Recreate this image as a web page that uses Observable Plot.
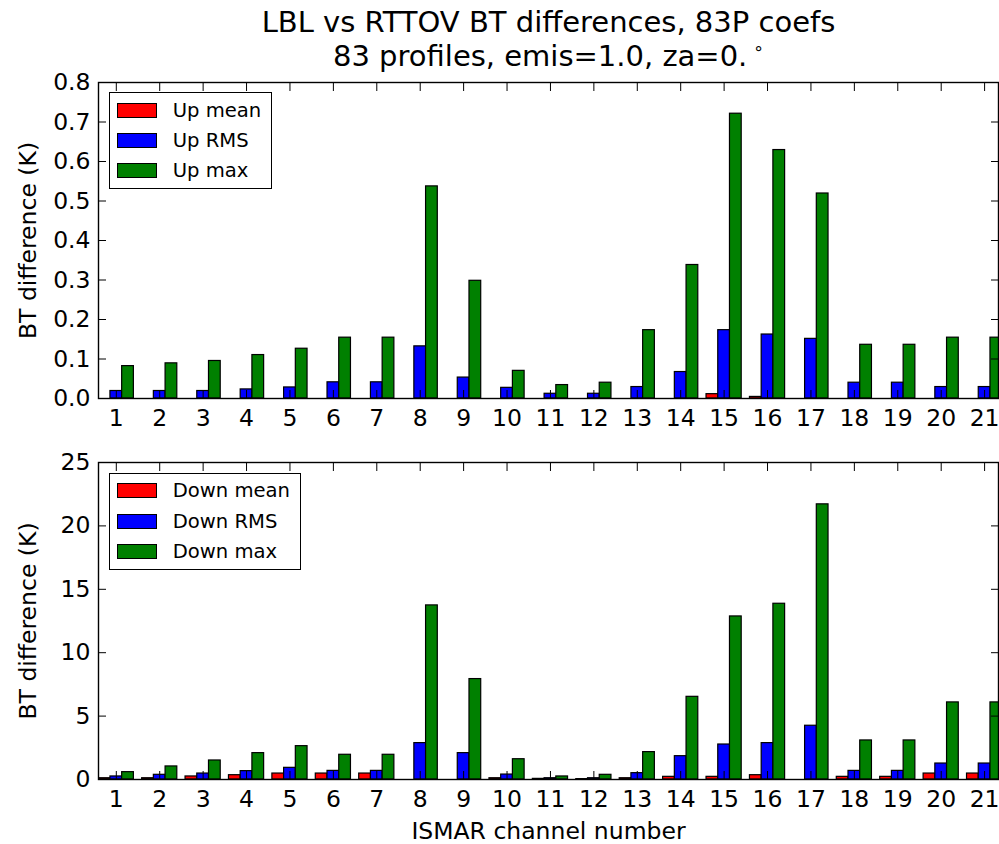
<!DOCTYPE html>
<html>
<head>
<meta charset="utf-8">
<script src="https://cdn.jsdelivr.net/npm/d3@7"></script>
<script src="https://cdn.jsdelivr.net/npm/@observablehq/plot@0.6"></script>
<style>
  html, body { margin: 0; padding: 0; background: #fff; }
  body { font-family: "DejaVu Sans", sans-serif; color: #000; }
  #page { position: relative; width: 999px; height: 844px; overflow: hidden; }
  #title { height: 75px; box-sizing: border-box; padding-top: 6px; padding-left: 98px; width: 999px;
           text-align: center; font-size: 29px; line-height: 33.5px; white-space: nowrap; }
  .panel { position: relative; }
  .panel svg { display: block; }
  .legend { position: absolute; background: #fff; border: 1.3px solid #000; box-sizing: border-box;
            padding-top: 1.7px; padding-left: 7.5px; font-size: 19.6px; }
  .legend .row { height: 30.3px; display: flex; align-items: center; white-space: nowrap; }
  .legend .sw { width: 38px; height: 13px; border: 1px solid #000; margin-right: 15.5px; flex: none; }
  .deg { font-size: 17px; position: relative; top: -12px; margin-left: 6px; }
</style>
</head>
<body>
<div id="page">
  <div id="title">LBL vs RTTOV BT differences, 83P coefs<br>83 profiles, emis=1.0, za=0.<span class="deg">∘</span></div>
  <div class="panel" id="top"></div>
  <div class="panel" id="bottom"></div>
</div>
<script>
// ---- data ----
const channels = [1,2,3,4,5,6,7,8,9,10,11,12,13,14,15,16,17,18,19,20,21];
const upMean   = [0,0,0,0,0,0,0,0,0,0,0,0,0,0,0.011,0.004,0,0,0,0,0];
const upRMS    = [0.019,0.019,0.019,0.023,0.028,0.041,0.041,0.132,0.053,0.027,0.012,0.012,0.029,0.067,0.173,0.162,0.151,0.040,0.040,0.029,0.029];
const upMax    = [0.082,0.089,0.095,0.110,0.126,0.154,0.154,0.537,0.298,0.070,0.034,0.040,0.173,0.338,0.721,0.629,0.519,0.136,0.136,0.154,0.154];
const downMean = [0.10,0.10,0.24,0.34,0.47,0.47,0.47,0,0,0.10,0.05,0.03,0.10,0.21,0.21,0.34,0,0.21,0.21,0.47,0.47];
const downRMS  = [0.24,0.37,0.47,0.66,0.92,0.68,0.68,2.87,2.08,0.39,0.10,0.10,0.50,1.84,2.76,2.87,4.24,0.68,0.68,1.26,1.26];
const downMax  = [0.58,1.03,1.50,2.08,2.63,1.95,1.95,13.73,7.92,1.60,0.24,0.37,2.16,6.52,12.86,13.86,21.70,3.08,3.08,6.08,6.08];
const upTicks   = [0,0.1,0.2,0.3,0.4,0.5,0.6,0.7,0.8];
const downTicks = [0,5,10,15,20,25];
const seriesColors = ["#ff0000", "#0000ff", "#008000"];
const upLabels   = ["Up mean", "Up RMS", "Up max"];
const downLabels = ["Down mean", "Down RMS", "Down max"];

const barW = 0.27;
const offsets = [-barW, 0, barW];
const xDomain = [0.59, 21.32];

function buildRows(series) {
  const rows = [];
  series.forEach((vals, s) => {
    channels.forEach((c, i) => rows.push({c, s, v: vals[i]}));
  });
  return rows;
}

function panel({series, yDomain, yTicks, yFormat, height, marginTop, marginBottom, xLabel}) {
  const rows = buildRows(series);
  return Plot.plot({
    width: 999,
    height,
    marginLeft: 98,
    marginRight: 1,
    marginTop,
    marginBottom,
    style: {fontFamily: "DejaVu Sans, sans-serif", fontSize: "23.5px", color: "#000", background: "#fff", overflow: "visible"},
    x: {domain: xDomain},
    y: {domain: yDomain},
    marks: [
      Plot.rect(rows, {
        x1: d => d.c + offsets[d.s] - barW / 2,
        x2: d => d.c + offsets[d.s] + barW / 2,
        y1: d => 0,
        y2: "v",
        fill: d => seriesColors[d.s],
        stroke: "#000",
        strokeWidth: 1.2,
        clip: true
      }),
      // inward tick marks on all four sides
      Plot.axisY(yTicks, {anchor: "left", tickSize: 8, dx: 8, fill: "none", label: null, strokeWidth: 1}),
      Plot.axisY(yTicks, {anchor: "right", tickSize: 8, dx: -8, fill: "none", label: null, strokeWidth: 1}),
      Plot.axisX(channels, {anchor: "bottom", tickSize: 8, dy: -8, fill: "none", label: null, strokeWidth: 1}),
      Plot.axisX(channels, {anchor: "top", tickSize: 8, dy: 8, fill: "none", label: null, strokeWidth: 1}),
      // tick labels
      Plot.axisY(yTicks, {anchor: "left", tickSize: 0, tickPadding: 8, tickFormat: yFormat, stroke: "none",
                          label: "BT difference (K)", labelAnchor: "center", labelArrow: "none", labelOffset: 79, fontSize: 23.5}),
      Plot.axisX(channels, {anchor: "bottom", tickSize: 0, tickPadding: 11, tickFormat: d => String(d), stroke: "none",
                            label: xLabel, labelArrow: "none", labelAnchor: "center", labelOffset: 59, fontSize: 23.5}),
      Plot.frame({stroke: "#000", strokeWidth: 1.4})
    ]
  });
}

function legend(labels, left, top, width) {
  const div = document.createElement("div");
  div.className = "legend";
  div.style.left = left + "px";
  div.style.top = top + "px";
  div.style.width = width + "px";
  div.style.height = "96.7px";
  labels.forEach((t, i) => {
    const row = document.createElement("div");
    row.className = "row";
    const sw = document.createElement("span");
    sw.className = "sw";
    sw.style.background = seriesColors[i];
    const tx = document.createElement("span");
    tx.textContent = t;
    row.appendChild(sw);
    row.appendChild(tx);
    div.appendChild(row);
  });
  return div;
}

const topEl = document.getElementById("top");
topEl.appendChild(panel({
  series: [upMean, upRMS, upMax], yDomain: [0, 0.8], yTicks: upTicks, yFormat: d3.format(".1f"),
  height: 380, marginTop: 7, marginBottom: 57, xLabel: null
}));
topEl.appendChild(legend(upLabels, 108.7, 92.3 - 75, 163));

const botEl = document.getElementById("bottom");
botEl.appendChild(panel({
  series: [downMean, downRMS, downMax], yDomain: [0, 25], yTicks: downTicks, yFormat: d => String(d),
  height: 389, marginTop: 7, marginBottom: 65, xLabel: "ISMAR channel number"
}));
botEl.appendChild(legend(downLabels, 108.7, 473 - 455, 192));
</script>
</body>
</html>
